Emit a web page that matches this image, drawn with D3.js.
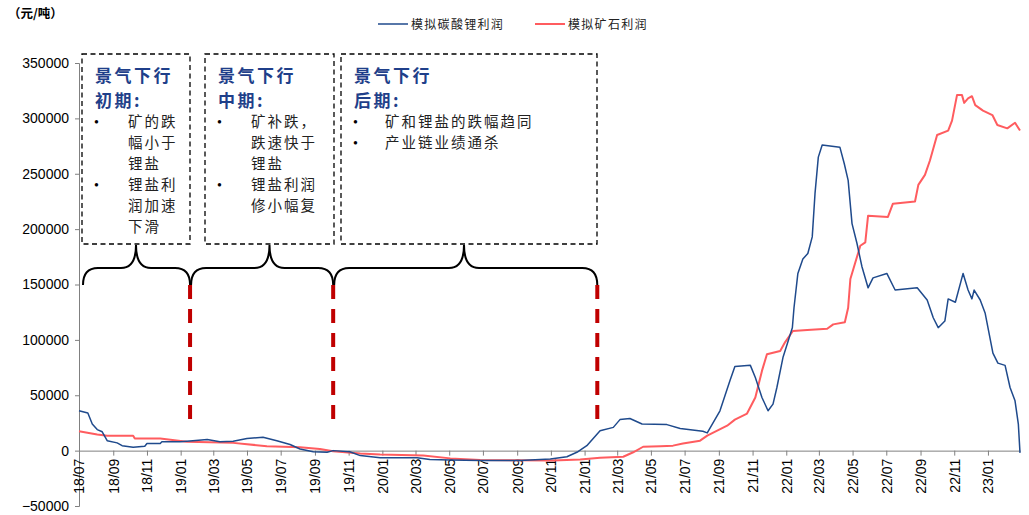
<!DOCTYPE html>
<html>
<head>
<meta charset="utf-8">
<script src="https://cdn.jsdelivr.net/npm/d3@7"></script>
<style>
  body { margin: 0; background: #fff; }
  svg { display: block; }
  .cjk { font-family: "Noto Sans CJK SC", sans-serif; }
</style>
</head>
<body>
<svg id="chart" width="1029" height="515"></svg>
<script>
// Simulated lithium carbonate profit (元/吨)
const carbonateDates = ["2018-07-01","2018-07-17","2018-07-25","2018-08-03","2018-08-12","2018-08-21","2018-09-08","2018-09-17","2018-10-07","2018-10-28","2018-11-01","2018-11-25","2018-11-28","2018-12-31","2019-01-23","2019-02-18","2019-03-13","2019-04-06","2019-05-01","2019-05-30","2019-06-24","2019-07-18","2019-08-05","2019-08-29","2019-09-23","2019-10-04","2019-11-03","2019-11-22","2019-12-28","2020-03-04","2020-03-27","2020-05-03","2020-06-26","2020-09-06","2020-10-31","2020-11-30","2020-12-20","2021-01-05","2021-01-29","2021-02-22","2021-03-06","2021-03-24","2021-04-15","2021-05-30","2021-06-23","2021-08-03","2021-08-11","2021-09-03","2021-09-21","2021-09-30","2021-10-28","2021-11-06","2021-11-18","2021-11-29","2021-12-08","2021-12-15","2021-12-26","2022-01-12","2022-01-15","2022-01-22","2022-01-31","2022-02-09","2022-02-17","2022-02-22","2022-02-28","2022-03-07","2022-04-08","2022-04-16","2022-04-23","2022-04-30","2022-05-09","2022-05-18","2022-05-29","2022-06-07","2022-07-02","2022-07-17","2022-08-26","2022-09-13","2022-09-24","2022-10-03","2022-10-15","2022-10-21","2022-11-03","2022-11-17","2022-11-26","2022-12-03","2022-12-07","2022-12-18","2022-12-27","2023-01-10","2023-01-19","2023-02-01","2023-02-10","2023-02-19","2023-02-25","2023-02-28"];
const carbonateProfit = [36000,34000,24000,19000,17000,9000,7000,4500,3000,4000,6500,6500,8000,8000,9000,10000,8000,8500,11000,12000,9000,5500,1500,-1000,-1500,0,-1000,-4500,-6500,-6500,-8000,-8500,-9000,-9000,-7500,-5500,-1000,4500,18000,21000,28000,29000,24000,23500,20000,17500,16000,36000,63000,76000,77000,66000,48000,36000,42000,57000,84000,111000,129000,160000,173000,178000,193000,232000,265000,276000,274000,259000,244000,205000,187000,166000,147000,156000,160000,145000,147000,136000,120000,111000,117000,137000,134000,160000,145000,137000,145000,136000,124000,88000,79000,77000,57000,45000,24000,-2000];

// Simulated ore profit (元/吨)
const oreDates = ["2018-07-01","2018-08-03","2018-08-21","2018-10-07","2018-10-10","2018-11-25","2019-01-12","2019-04-06","2019-06-06","2019-08-05","2019-09-10","2019-10-04","2019-11-22","2019-12-28","2020-03-15","2020-05-03","2020-06-26","2020-11-05","2020-12-24","2021-01-29","2021-03-12","2021-03-30","2021-04-17","2021-05-18","2021-06-10","2021-06-28","2021-07-29","2021-08-11","2021-09-16","2021-09-30","2021-10-22","2021-11-06","2021-11-18","2021-11-27","2021-12-21","2021-12-30","2022-01-13","2022-02-08","2022-03-16","2022-03-27","2022-04-17","2022-04-23","2022-04-27","2022-05-15","2022-05-24","2022-05-29","2022-07-04","2022-07-13","2022-08-22","2022-08-28","2022-09-09","2022-09-18","2022-10-01","2022-10-21","2022-10-28","2022-11-06","2022-11-15","2022-11-19","2022-11-26","2022-12-03","2022-12-09","2022-12-23","2023-01-09","2023-01-18","2023-02-05","2023-02-19","2023-02-28"];
const oreProfit = [17500,14500,13500,13500,11000,11000,8000,7000,4000,3000,1500,-500,-2500,-3500,-4500,-7000,-8500,-9000,-8000,-6500,-5500,-1500,3500,4000,4500,6500,9000,13500,22500,28000,33500,48000,72000,87000,90000,98000,108000,109000,110000,114000,116000,129000,155000,185000,188000,212000,211000,223000,225000,240000,249000,262000,285000,289000,298000,321000,321000,314000,318000,320000,312000,307000,303000,294000,291000,296000,289000];

const yTicks = [-50000, 0, 50000, 100000, 150000, 200000, 250000, 300000, 350000];
const seriesNames = ["模拟碳酸锂利润", "模拟矿石利润"];
const unitLabel = "（元/吨）";

// Phase boundaries of the downturn
const phaseBounds = ["2018-07-01", "2019-01-18", "2019-10-04", "2021-01-24"];
const phaseTitles = [["景气下行", "初期:"], ["景气下行", "中期:"], ["景气下行", "后期:"]];
const phaseBullets = [
  [["矿的跌", "幅小于", "锂盐"], ["锂盐利", "润加速", "下滑"]],
  [["矿补跌，", "跌速快于", "锂盐"], ["锂盐利润", "修小幅复"]],
  [["矿和锂盐的跌幅趋同"], ["产业链业绩通杀"]]
];

const parse = d3.timeParse("%Y-%m-%d");
const svg = d3.select("#chart");

const x = d3.scaleTime()
  .domain([parse("2018-07-01"), parse("2023-02-28")])
  .range([79, 1020]);
const y = d3.scaleLinear().domain([-50000, 350000]).range([506, 63]);

const blue = "#1F4A8C";
const red = "#FF5C5F";
const tickFont = "Liberation Sans, Arial, sans-serif";

// Y axis
const yAxis = svg.append("g").attr("transform", "translate(79,0)")
  .call(d3.axisLeft(y).tickValues(yTicks).tickSize(4).tickPadding(6).tickFormat(d3.format("d")));
yAxis.select(".domain").attr("stroke", "#808080");
yAxis.selectAll(".tick line").attr("stroke", "#808080");
yAxis.selectAll(".tick text").attr("font-size", 14).attr("font-family", tickFont).attr("fill", "#000");

// X axis at zero
const monthTicks = d3.timeMonth.range(parse("2018-07-01"), parse("2023-02-02"), 2);
const xAxis = svg.append("g").attr("transform", `translate(0,${y(0)})`)
  .call(d3.axisBottom(x).tickValues(monthTicks).tickSize(5).tickSizeOuter(0).tickFormat(d3.timeFormat("%y/%m")));
xAxis.select(".domain").attr("stroke", "#808080");
xAxis.selectAll(".tick line").attr("stroke", "#808080");
xAxis.selectAll(".tick text")
  .attr("font-size", 14)
  .attr("font-family", tickFont)
  .attr("fill", "#000")
  .attr("text-anchor", "end")
  .attr("dy", "0.35em")
  .attr("transform", "rotate(-90)")
  .attr("x", -8)
  .attr("y", 0);

// Lines
const line = d3.line().x(d => x(d[0])).y(d => y(d[1]));
const oreData = oreDates.map((d, i) => [parse(d), oreProfit[i]]);
const carbData = carbonateDates.map((d, i) => [parse(d), carbonateProfit[i]]);

svg.append("path").datum(oreData).attr("d", line)
  .attr("fill", "none").attr("stroke", red).attr("stroke-width", 2).attr("stroke-linejoin", "round");
svg.append("path").datum(carbData).attr("d", line)
  .attr("fill", "none").attr("stroke", blue).attr("stroke-width", 1.5).attr("stroke-linejoin", "round");

// Unit label and legend
svg.append("text").attr("class", "cjk").attr("x", 8).attr("y", 18)
  .attr("font-size", 12.5).attr("font-weight", "bold").text(unitLabel);

const legend = [
  { x: 378, color: blue, w: 1.5, name: seriesNames[0] },
  { x: 535, color: red, w: 2, name: seriesNames[1] }
];
legend.forEach(l => {
  svg.append("line").attr("x1", l.x).attr("x2", l.x + 30).attr("y1", 24).attr("y2", 24)
    .attr("stroke", l.color).attr("stroke-width", l.w);
  svg.append("text").attr("class", "cjk").attr("x", l.x + 33).attr("y", 28.5)
    .attr("font-size", 12).attr("fill", "#222").attr("letter-spacing", 1.3).text(l.name);
});

// Dashed annotation boxes
const boxes = [
  { x0: 82, x1: 190 },
  { x0: 205, x1: 334 },
  { x0: 341, x1: 597 }
];
const boxTop = 54, boxBottom = 244;
boxes.forEach((b, i) => {
  svg.append("rect").attr("x", b.x0).attr("y", boxTop).attr("width", b.x1 - b.x0).attr("height", boxBottom - boxTop)
    .attr("fill", "none").attr("stroke", "#000").attr("stroke-width", 1.3).attr("stroke-dasharray", "5,3.5");
  const tx = b.x0 + 13;
  phaseTitles[i].forEach((t, k) => {
    svg.append("text").attr("class", "cjk").attr("x", tx).attr("y", 82 + k * 25)
      .attr("font-size", 17).attr("font-weight", "bold").attr("fill", "#1F3F8A")
      .attr("letter-spacing", 2.5).text(t);
  });
  let row = 0;
  const textX = i === 2 ? b.x0 + 44 : b.x0 + 46;
  phaseBullets[i].forEach(bullet => {
    svg.append("text").attr("x", b.x0 + 12).attr("y", 127 + row * 21)
      .attr("font-family", "Liberation Serif, serif").attr("font-size", 14).text("•");
    bullet.forEach(lineTxt => {
      svg.append("text").attr("class", "cjk").attr("x", textX).attr("y", 127 + row * 21)
        .attr("font-size", 14.5).attr("fill", "#222").attr("letter-spacing", 2).text(lineTxt);
      row++;
    });
  });
});

// Curly braces spanning each phase
const yb = 285, ym = 268, yt = 245, r = 15;
for (let i = 0; i < 3; i++) {
  const x0 = x(parse(phaseBounds[i])) + (i === 0 ? 4 : 1);
  const x1 = x(parse(phaseBounds[i + 1]));
  const cx = (boxes[i].x0 + boxes[i].x1) / 2 + (i === 2 ? -5 : 0);
  const p = `M${x0},${yb} Q${x0},${ym} ${x0 + r},${ym} L${cx - r},${ym} Q${cx},${ym} ${cx},${yt}` +
            ` Q${cx},${ym} ${cx + r},${ym} L${x1 - r},${ym} Q${x1},${ym} ${x1},${yb}`;
  svg.append("path").attr("d", p).attr("fill", "none").attr("stroke", "#000").attr("stroke-width", 2);
}

// Red dashed phase dividers
phaseBounds.slice(1).forEach(d => {
  const xx = x(parse(d));
  svg.append("line").attr("x1", xx).attr("x2", xx).attr("y1", 285).attr("y2", 419)
    .attr("stroke", "#C00000").attr("stroke-width", 4).attr("stroke-dasharray", "14,10");
});
</script>
</body>
</html>
